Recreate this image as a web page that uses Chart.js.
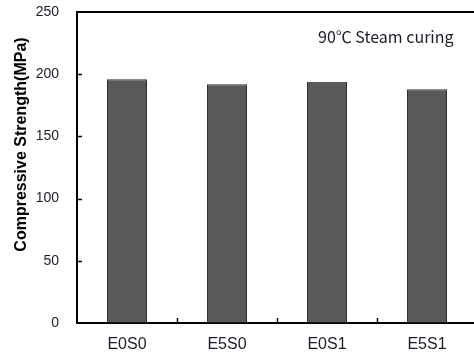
<!DOCTYPE html>
<html>
<head>
<meta charset="utf-8">
<script src="https://cdn.jsdelivr.net/npm/chart.js@4/dist/chart.umd.min.js"></script>
<style>
  html, body { margin: 0; padding: 0; background: #fff; overflow: hidden; }
  #wrap { width: 480px; height: 353px; }
</style>
</head>
<body>
<div id="wrap"><canvas id="c" width="480" height="353"></canvas></div>
<script>
// Compressive strength of the four mixes after 90 °C steam curing
const categories = ['E0S0', 'E5S0', 'E0S1', 'E5S1'];
const strengthMPa = [196, 192, 194, 188];
const yTicks = [0, 50, 100, 150, 200, 250];
const yTitle = 'Compressive Strength(MPa)';
const curingNote = '90\u2103 Steam curing';

const textColor = '#1c1c28';

// Frame extras: top border, inward tick marks, rotated axis title, curing note
const frameExtras = {
  id: 'frameExtras',
  afterDraw(chart) {
    const { ctx, chartArea: a, scales: { x, y } } = chart;
    ctx.save();
    ctx.strokeStyle = '#000';
    ctx.lineWidth = 2;
    ctx.beginPath();
    ctx.moveTo(a.left - 1, a.top);
    ctx.lineTo(a.right, a.top);
    ctx.stroke();

    ctx.lineWidth = 1.5;
    ctx.beginPath();
    yTicks.forEach(v => {
      if (v === 0 || v === 250) return;
      const py = Math.round(y.getPixelForValue(v)) + 0.5;
      ctx.moveTo(a.left, py);
      ctx.lineTo(a.left + 5, py);
    });
    for (let i = 1; i < categories.length; i++) {
      const px = Math.round((x.getPixelForValue(i - 1) + x.getPixelForValue(i)) / 2) + 0.5;
      ctx.moveTo(px, a.bottom);
      ctx.lineTo(px, a.bottom - 5);
    }
    ctx.stroke();

    // y axis title
    ctx.fillStyle = '#000';
    ctx.font = 'bold 16px "Liberation Sans", Arial, sans-serif';
    ctx.textAlign = 'center';
    ctx.textBaseline = 'middle';
    ctx.translate(22, 144.5);
    ctx.rotate(-Math.PI / 2);
    ctx.fillText(yTitle, 0, 0);
    ctx.restore();

    // curing condition note
    ctx.save();
    ctx.fillStyle = textColor;
    ctx.font = '16px "Noto Sans CJK KR", "Noto Sans", sans-serif';
    ctx.textAlign = 'left';
    ctx.textBaseline = 'middle';
    ctx.fillText(curingNote, 318, 37);
    ctx.restore();
  }
};

new Chart(document.getElementById('c'), {
  type: 'bar',
  data: {
    labels: categories,
    datasets: [{
      data: strengthMPa,
      backgroundColor: '#595959',
      borderColor: '#2e2e2e',
      borderWidth: 1,
      barPercentage: 0.4,
      categoryPercentage: 1.0
    }]
  },
  options: {
    responsive: false,
    animation: false,
    events: [],
    layout: { padding: { top: 12, right: 3, left: 0, bottom: 0 } },
    plugins: {
      legend: { display: false },
      tooltip: { enabled: false }
    },
    scales: {
      x: {
        grid: { display: true, drawOnChartArea: false, drawTicks: false },
        border: { display: true, color: '#000', width: 2 },
        ticks: {
          color: textColor,
          padding: 12,
          font: { family: '"Liberation Sans", Arial, sans-serif', size: 16 }
        },
        afterFit(s) { s.height = 30; s.paddingLeft = 0; s.paddingRight = 0; }
      },
      y: {
        min: 0,
        max: 250,
        afterBuildTicks(s) { s.ticks = yTicks.map(v => ({ value: v })); },
        grid: { display: true, drawOnChartArea: false, drawTicks: false },
        border: { display: true, color: '#000', width: 2 },
        ticks: {
          color: textColor,
          padding: 18,
          font: { family: '"Liberation Sans", Arial, sans-serif', size: 14 }
        },
        afterFit(s) { s.width = 77; s.paddingTop = 0; s.paddingBottom = 0; }
      }
    }
  },
  plugins: [frameExtras]
});
</script>
</body>
</html>
